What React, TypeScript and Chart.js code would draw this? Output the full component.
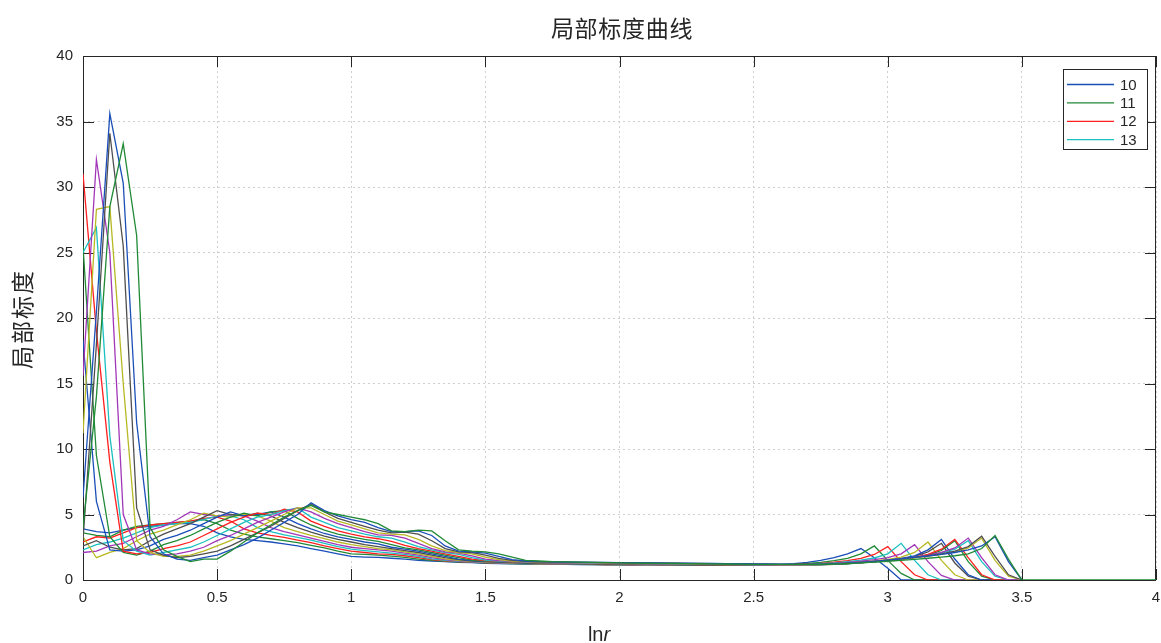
import React, { useEffect, useRef } from "react";
import { Chart, registerables } from "chart.js";

Chart.register(...registerables);

const chartTitle = "局部标度曲线";
const yTitle = "局部标度";
const xTitleMain = "ln";
const xTitleItalic = "r";

const lnr = [
  0, 0.05, 0.1, 0.15, 0.2, 0.25, 0.3, 0.35, 0.4, 0.45, 0.5, 0.55, 0.6, 0.65, 0.7, 0.75, 0.8, 0.85, 0.9, 0.95,
  1, 1.05, 1.1, 1.15, 1.2, 1.25, 1.3, 1.35, 1.4, 1.45, 1.5, 1.55, 1.6, 1.65, 1.7, 1.75, 1.8, 1.85, 1.9, 1.95,
  2, 2.05, 2.1, 2.15, 2.2, 2.25, 2.3, 2.35, 2.4, 2.45, 2.5, 2.55, 2.6, 2.65, 2.7, 2.75, 2.8, 2.85, 2.9, 2.95,
  3, 3.05, 3.1, 3.15, 3.2, 3.25, 3.3, 3.35, 3.4, 3.45, 3.5, 3.55, 3.6, 3.65, 3.7, 3.75, 3.8, 3.85, 3.9, 3.95, 4,
];

const seriesLabels = ["10", "11", "12", "13", "14", "15", "16", "17", "18", "19", "20", "21", "22", "23", "24", "25"];

const s10 = [3.9,3.7,3.6,3.8,4.0,4.1, 4.2,4.3,4.3,4.1,3.6,3.3,3.1,3.0,2.9,2.75,2.6,2.4,2.2,2.0, 1.8,1.75,1.72,1.66,1.6,1.5,1.45,1.4,1.35,1.32,1.28,1.26,1.24,1.22,1.21, 1.2,1.19,1.18,1.17,1.16,1.15,1.15,1.14,1.14,1.13,1.13,1.13,1.13,1.14,1.14,1.15,1.17,1.2,1.25,1.35, 1.5,1.7,2.0,2.4,1.7,0.9,0,0,0,0,0,0,0,0,0,0];
const s11 = [3.6,3.4,3.3,3.8,4.1,4.2, 4.3,4.4,4.5,4.6,4.3,3.8,3.5,3.3,3.15,3.0,2.85,2.65,2.45,2.2, 2.0,1.95,1.9,1.82,1.72,1.6,1.5,1.43,1.38,1.34,1.3,1.28,1.26,1.24,1.22, 1.21,1.2,1.19,1.18,1.17,1.16,1.15,1.15,1.14,1.14,1.13,1.13,1.13,1.13,1.14,1.14,1.15,1.17,1.2,1.26, 1.35,1.48,1.65,2.0,2.6,1.5,0.5,0,0,0,0,0,0,0,0,0];
const s12 = [2.9,3.3,3.2,3.6,4.0,4.2, 4.3,4.4,4.5,4.7,4.8,4.5,3.9,3.6,3.4,3.25,3.05,2.85,2.6,2.4, 2.2,2.1,2.0,1.95,1.85,1.7,1.56,1.47,1.41,1.36,1.32,1.29,1.27,1.25,1.23, 1.22,1.21,1.2,1.19,1.18,1.17,1.16,1.15,1.15,1.14,1.14,1.13,1.13,1.13,1.13,1.14,1.14,1.15,1.17,1.22, 1.27,1.36,1.48,1.65,1.95,2.55,1.4,0.4,0,0,0,0,0,0,0,0];
const s13 = [2.3,2.7,2.9,3.2,3.6,4.0, 4.2,4.3,4.4,4.6,4.9,4.9,4.6,4.0,3.7,3.45,3.25,3.05,2.8,2.55, 2.35,2.25,2.15,2.05,1.95,1.8,1.62,1.5,1.43,1.38,1.34,1.3,1.28,1.26,1.24, 1.23,1.22,1.21,1.2,1.19,1.18,1.17,1.16,1.15,1.15,1.14,1.14,1.13,1.13,1.13,1.13,1.14,1.15,1.16,1.19, 1.24,1.3,1.4,1.52,1.68,2.0,2.8,1.5,0.4,0,0,0,0,0,0,0];
const s14 = [2.1,2.2,2.6,2.8,3.3,3.8, 4.1,4.6,5.2,5.0,4.9,5.0,4.9,4.5,4.0,3.7,3.45,3.2,2.95,2.7, 2.5,2.4,2.3,2.2,2.05,1.9,1.7,1.55,1.46,1.4,1.36,1.32,1.29,1.27,1.25, 1.24,1.23,1.22,1.21,1.2,1.19,1.18,1.17,1.16,1.15,1.15,1.14,1.14,1.13,1.13,1.13,1.14,1.14,1.15,1.17, 1.21,1.27,1.34,1.43,1.55,1.7,2.0,2.7,1.4,0.35,0,0,0,0,0,0];
const s15 = [3.3,1.7,2.1,2.4,3.0,3.5, 3.8,4.2,4.6,5.1,4.9,4.8,5.0,4.9,4.5,4.0,3.7,3.4,3.15,2.9, 2.7,2.55,2.4,2.3,2.15,2.0,1.8,1.62,1.5,1.42,1.38,1.34,1.31,1.28,1.26, 1.25,1.24,1.23,1.22,1.21,1.2,1.19,1.18,1.17,1.16,1.15,1.15,1.14,1.14,1.13,1.13,1.13,1.14,1.15,1.16, 1.19,1.23,1.3,1.37,1.46,1.58,1.75,2.1,2.9,1.5,0.4,0,0,0,0,0];
const s16 = [2.6,3.0,2.5,2.3,2.4,3.0, 3.5,3.9,4.3,4.8,5.3,5.0,4.9,5.1,4.9,4.4,4.0,3.65,3.35,3.1, 2.9,2.7,2.55,2.4,2.25,2.1,1.9,1.7,1.55,1.45,1.4,1.36,1.32,1.29,1.27, 1.26,1.25,1.24,1.23,1.22,1.21,1.2,1.19,1.18,1.17,1.16,1.15,1.15,1.14,1.14,1.13,1.13,1.14,1.14,1.15, 1.18,1.21,1.26,1.32,1.4,1.5,1.62,1.8,2.15,2.8,1.3,0.3,0,0,0,0];
const s17 = [18.3,6.0,2.3,2.2,2.3,2.6, 3.1,3.4,3.8,4.3,4.8,5.2,4.9,5.0,5.2,4.8,4.3,3.9,3.55,3.3, 3.1,2.9,2.75,2.5,2.35,2.2,2.0,1.8,1.6,1.48,1.42,1.38,1.34,1.3,1.28, 1.27,1.26,1.25,1.24,1.23,1.22,1.21,1.2,1.19,1.18,1.17,1.16,1.15,1.15,1.14,1.14,1.14,1.14,1.15,1.16, 1.18,1.22,1.27,1.34,1.42,1.52,1.65,1.85,2.3,3.1,1.6,0.4,0,0,0,0];
const s18 = [25.5,9.5,3.3,2.1,1.9,2.2, 2.7,3.0,3.4,3.9,4.4,4.8,5.1,4.9,5.2,5.3,4.7,4.2,3.8,3.5, 3.3,3.1,2.95,2.7,2.45,2.3,2.1,1.9,1.7,1.52,1.45,1.4,1.36,1.32,1.29, 1.28,1.27,1.26,1.25,1.24,1.23,1.22,1.21,1.2,1.19,1.18,1.17,1.16,1.15,1.15,1.14,1.14,1.14,1.15,1.16, 1.17,1.2,1.24,1.3,1.38,1.46,1.56,1.7,1.9,2.25,3.0,1.4,0.3,0,0,0];
const s19 = [31,19,9,2.2,2.0,2.1, 2.4,2.6,2.9,3.4,3.9,4.4,4.8,5.1,5.0,5.4,5.2,4.5,4.1,3.75, 3.5,3.3,3.15,2.95,2.65,2.4,2.2,2.0,1.8,1.6,1.48,1.42,1.38,1.34,1.3, 1.29,1.28,1.27,1.26,1.25,1.24,1.23,1.22,1.21,1.2,1.19,1.18,1.17,1.16,1.15,1.15,1.14,1.14,1.15,1.16, 1.17,1.2,1.25,1.32,1.4,1.48,1.58,1.72,1.95,2.35,3.1,1.7,0.4,0,0,0];
const s20 = [25,26.9,11,3.0,2.2,1.9, 2.1,2.3,2.5,2.9,3.4,3.9,4.4,4.8,5.0,5.3,5.5,4.8,4.4,4.0, 3.75,3.5,3.3,3.2,2.9,2.55,2.3,2.1,1.95,1.7,1.52,1.45,1.4,1.36,1.32, 1.31,1.3,1.29,1.28,1.27,1.26,1.25,1.24,1.23,1.22,1.21,1.2,1.19,1.18,1.17,1.16,1.15,1.15,1.15,1.16, 1.17,1.2,1.25,1.32,1.4,1.5,1.6,1.72,1.86,2.05,2.35,3.0,1.4,0.3,0,0];
const s21 = [15.6,32.1,25,5,2.3,2.0, 1.9,2.0,2.2,2.5,3.0,3.4,3.9,4.4,4.8,5.2,5.5,5.2,4.7,4.3, 4.0,3.7,3.45,3.4,3.2,2.8,2.4,2.15,2.05,1.85,1.6,1.48,1.42,1.38,1.34, 1.33,1.32,1.31,1.3,1.29,1.28,1.27,1.26,1.25,1.24,1.23,1.22,1.21,1.2,1.19,1.18,1.17,1.16,1.16,1.17, 1.2,1.24,1.29,1.36,1.44,1.52,1.62,1.75,1.9,2.1,2.45,3.2,1.7,0.4,0,0];
const s22 = [11.2,28.3,28.5,15,3.0,2.1, 1.8,1.8,1.9,2.2,2.6,3.0,3.5,4.0,4.5,5.0,5.5,5.5,5.0,4.5, 4.2,3.9,3.6,3.5,3.45,3.1,2.6,2.25,2.1,2.0,1.75,1.55,1.45,1.4,1.36, 1.35,1.34,1.33,1.32,1.31,1.3,1.29,1.28,1.27,1.26,1.25,1.24,1.23,1.22,1.21,1.2,1.19,1.18,1.18,1.18, 1.2,1.23,1.27,1.33,1.41,1.5,1.6,1.7,1.82,1.96,2.15,2.45,3.2,1.5,0.3,0];
const s23 = [3.0,18,34.1,25.5,5.5,2.3, 1.9,1.7,1.8,2.0,2.2,2.6,3.1,3.6,4.1,4.7,5.3,5.8,5.2,4.7, 4.4,4.1,3.8,3.6,3.65,3.5,3.0,2.4,2.15,2.1,1.9,1.65,1.5,1.42,1.38, 1.37,1.36,1.35,1.34,1.33,1.32,1.31,1.3,1.29,1.28,1.27,1.26,1.25,1.24,1.23,1.22,1.21,1.2,1.19,1.19, 1.2,1.23,1.27,1.33,1.4,1.5,1.62,1.72,1.85,2.0,2.2,2.55,3.35,1.8,0.4,0];
const s24 = [6.3,20.5,35.6,30.3,12,3.3, 2.0,1.6,1.5,1.7,1.9,2.3,2.7,3.2,3.8,4.4,5.0,5.9,5.3,4.9, 4.6,4.4,4.0,3.7,3.7,3.75,3.4,2.6,2.2,2.15,2.05,1.8,1.55,1.45,1.4, 1.38,1.37,1.36,1.35,1.34,1.33,1.32,1.31,1.3,1.29,1.28,1.27,1.26,1.25,1.24,1.23,1.22,1.21,1.2,1.2, 1.21,1.24,1.28,1.34,1.42,1.52,1.62,1.72,1.82,1.95,2.1,2.3,2.6,3.3,1.4,0];
const s25 = [4.0,14,28.5,33.3,26.3,4.0, 2.3,1.8,1.4,1.6,1.6,2.2,2.9,3.6,4.2,4.8,5.3,5.7,5.2,5.0, 4.8,4.6,4.3,3.75,3.7,3.8,3.75,3.0,2.3,2.2,2.15,2.0,1.75,1.5,1.45, 1.4,1.38,1.36,1.34,1.32,1.3,1.29,1.28,1.27,1.26,1.25,1.24,1.23,1.22,1.21,1.2,1.2,1.19,1.19,1.19, 1.2,1.22,1.25,1.3,1.36,1.43,1.5,1.58,1.66,1.75,1.85,2.0,2.4,3.4,1.6,0, 0,0,0,0,0,0,0,0,0,0];

const allSeries = [s10, s11, s12, s13, s14, s15, s16, s17, s18, s19, s20, s21, s22, s23, s24, s25];

const palette = ["#1a4fb8", "#218a36", "#ff1f1f", "#1cc0c0", "#a236b8", "#b8b824", "#4f4f4f"];

const xTicks = { min: 0, max: 4, step: 0.5 };
const yTicks = { min: 0, max: 40, step: 5 };

const AXIS_COLOR = "#262626";

const overlayPlugin = {
  id: "matlabOverlay",
  beforeDatasetsDraw(chart: any) {
    const ctx = chart.ctx;
    const { left, right, top, bottom } = chart.chartArea;
    const xs = chart.scales.x;
    const ys = chart.scales.y;
    ctx.save();
    ctx.strokeStyle = AXIS_COLOR;
    ctx.lineWidth = 1;
    ctx.beginPath();
    const tl = 11;
    xs.ticks.forEach((t: any) => {
      const px = Math.round(xs.getPixelForValue(t.value)) + 0.5;
      ctx.moveTo(px, bottom);
      ctx.lineTo(px, bottom - tl);
      ctx.moveTo(px, top);
      ctx.lineTo(px, top + tl);
    });
    ys.ticks.forEach((t: any) => {
      const py = Math.round(ys.getPixelForValue(t.value)) + 0.5;
      ctx.moveTo(left, py);
      ctx.lineTo(left + tl, py);
      ctx.moveTo(right, py);
      ctx.lineTo(right - tl, py);
    });
    ctx.stroke();
    ctx.strokeRect(Math.round(left) + 0.5, Math.round(top) + 0.5, Math.round(right - left) - 1, Math.round(bottom - top));
    ctx.restore();
  },
  afterDraw(chart: any) {
    const ctx = chart.ctx;
    ctx.save();
    ctx.fillStyle = AXIS_COLOR;
    ctx.font = '23px "Noto Sans CJK SC"';
    (ctx as any).letterSpacing = "0.7px";
    ctx.textAlign = "center";
    ctx.textBaseline = "middle";
    ctx.fillText(chartTitle, 622, 28);
    ctx.save();
    ctx.translate(22, 319);
    ctx.rotate(-Math.PI / 2);
    (ctx as any).letterSpacing = "2px";
    ctx.fillText(yTitle, 0, 0);
    ctx.restore();
    (ctx as any).letterSpacing = "0px";
    ctx.textAlign = "left";
    ctx.textBaseline = "alphabetic";
    ctx.font = '20px "Liberation Sans"';
    const w1 = ctx.measureText(xTitleMain).width;
    ctx.font = 'italic 20px "Liberation Sans"';
    const w2 = ctx.measureText(xTitleItalic).width;
    const x0 = 599 - (w1 + w2) / 2;
    ctx.font = '20px "Liberation Sans"';
    ctx.fillText(xTitleMain, x0, 641);
    ctx.font = 'italic 20px "Liberation Sans"';
    ctx.fillText(xTitleItalic, x0 + w1, 641);
    const bx = 1063.5, by = 69.5, bw = 84, bh = 80;
    ctx.fillStyle = "#ffffff";
    ctx.fillRect(bx, by, bw, bh);
    ctx.strokeStyle = AXIS_COLOR;
    ctx.lineWidth = 1;
    ctx.strokeRect(bx, by, bw, bh);
    ctx.font = '15px "Liberation Sans"';
    ctx.textBaseline = "middle";
    const ds = chart.data.datasets.slice(0, 4);
    ds.forEach((d: any, i: number) => {
      const y = 84.5 + i * 18.4;
      ctx.strokeStyle = d.borderColor;
      ctx.lineWidth = 1.3;
      ctx.beginPath();
      ctx.moveTo(1067, y);
      ctx.lineTo(1114, y);
      ctx.stroke();
      ctx.fillStyle = AXIS_COLOR;
      ctx.fillText(d.label, 1120, y + 1);
    });
    ctx.restore();
  },
};

export default function App() {
  const ref = useRef<HTMLCanvasElement | null>(null);
  useEffect(() => {
    if (!ref.current) return;
    const datasets = allSeries.map((vals, k) => ({
      label: seriesLabels[k],
      data: vals.map((y, i) => ({ x: lnr[i], y })),
      borderColor: palette[k % palette.length],
      backgroundColor: palette[k % palette.length],
      borderWidth: 1.3,
      pointRadius: 0,
      tension: 0,
      fill: false,
      order: allSeries.length - 1 - k,
    }));
    const chart = new Chart(ref.current, {
      type: "line",
      data: { datasets },
      options: {
        responsive: false,
        animation: false,
        devicePixelRatio: 1,
        layout: { padding: { top: 56, right: 5, left: 0, bottom: 0 } },
        plugins: {
          legend: { display: false },
          title: { display: false },
          tooltip: { enabled: false },
        },
        scales: {
          x: {
            type: "linear",
            min: xTicks.min,
            max: xTicks.max,
            ticks: {
              stepSize: xTicks.step,
              autoSkip: false,
              maxRotation: 0,
              color: AXIS_COLOR,
              font: { family: '"Liberation Sans"', size: 15 },
              padding: 9,
              callback: (v: any) => String(Number(v)),
            },
            grid: { color: "#cfcfcf", lineWidth: 1, drawTicks: false },
            border: { display: false, dash: [2, 3] },
            afterFit: (s: any) => {
              s.height = 63;
              s.paddingLeft = 0;
              s.paddingRight = 0;
            },
          },
          y: {
            type: "linear",
            min: yTicks.min,
            max: yTicks.max,
            ticks: {
              stepSize: yTicks.step,
              color: AXIS_COLOR,
              font: { family: '"Liberation Sans"', size: 15 },
              padding: 10,
              callback: (v: any) => String(Number(v)),
            },
            grid: { color: "#cfcfcf", lineWidth: 1, drawTicks: false },
            border: { display: false, dash: [2, 3] },
            afterFit: (s: any) => {
              s.width = 83;
              s.paddingTop = 0;
              s.paddingBottom = 0;
            },
          },
        },
      },
      plugins: [overlayPlugin],
    });
    return () => chart.destroy();
  }, []);
  return (
    <div style={{ position: "fixed", left: 0, top: 0, width: 1161, height: 643, background: "#fff" }}>
      <canvas ref={ref} width={1161} height={643} style={{ width: 1161, height: 643, display: "block" }} />
    </div>
  );
}
